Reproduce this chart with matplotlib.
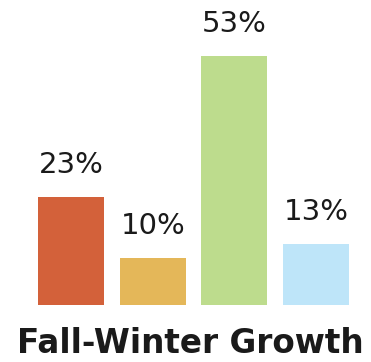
import matplotlib
matplotlib.use("Agg")
import matplotlib.pyplot as plt

# Seasonal growth shares (percent)
categories = ["A", "B", "C", "D"]
values = [23, 10, 53, 13]
colors = ["#D3613A", "#E4B759", "#BDDC8D", "#BEE5F9"]
title = "Fall-Winter Growth"

W, H, DPI = 371, 362, 100
fig = plt.figure(figsize=(W / DPI, H / DPI), dpi=DPI)
fig.patch.set_facecolor("white")

base_px = 57        # baseline height above figure bottom
px_per_unit = 4.7   # vertical scale
pitch = 81.7        # horizontal spacing between bars, px
first_center = 71

ax = fig.add_axes([0, base_px / H, 1, (H - base_px) / H])
ax.set_ylim(0, (H - base_px) / px_per_unit)
ax.set_xlim(-first_center / pitch, (W - first_center) / pitch)
ax.axis("off")

x = list(range(len(values)))
bars = ax.bar(x, values, width=66 / pitch, color=colors)

for xi, v in zip(x, values):
    ax.annotate(f"{v}%", (xi, v), xytext=(0, 17), textcoords="offset points",
                ha="center", va="baseline", fontsize=21, color="#1a1a1a",
                family="DejaVu Sans")

fig.text(190 / W, 2 / H, title, ha="center", va="bottom",
         fontsize=23.5, fontweight="bold", family="DejaVu Sans", color="#1a1a1a")

fig.savefig("out.png", dpi=DPI)
